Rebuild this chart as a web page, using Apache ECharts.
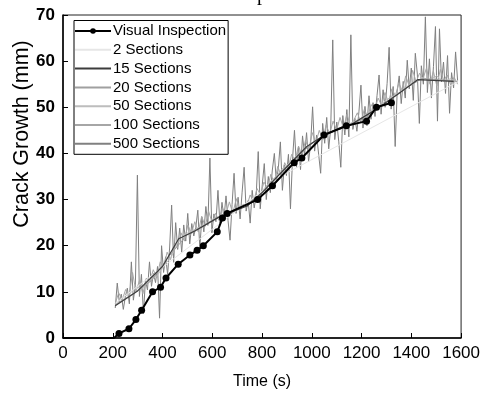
<!DOCTYPE html>
<html><head><meta charset="utf-8">
<script src="https://cdn.jsdelivr.net/npm/echarts@6/dist/echarts.min.js"></script>
<style>html,body{margin:0;padding:0;background:#fff}#c{width:483px;height:395px}</style>
</head><body><div id="c"></div>
<script>
// ---- data ----
const xTicks = [0,200,400,600,800,1000,1200,1400,1600];
const yTicks = [0,10,20,30,40,50,60,70];
const sectionStart = 210, sectionEnd = 1586;

const visualTime  = [0,205,225,265,293,316,360,392,414,463,510,539,564,620,641,660,782,842,929,960,1049,1139,1220,1260,1320];
const visualValue = [0,0,1,2,4,6,10,11,13,16,18,19,20,23,26,27,30,33,38,39,44,46,47,50,51];

const sec2Time  = [210, 890, 1586];
const sec2Value = [7.5, 35.5, 55.5];

const sec15Time  = [210,300,400,465,530,630,740,800,880,980,1060,1160,1260,1340,1427,1570];
const sec15Value = [7,10.2,15.5,21.5,23.2,26.3,28.6,31.5,36,41.5,44.3,46.3,49.6,52.6,56,55.6];

const sec20Value = [7.2,9.6,12.4,17.8,22.4,24.6,26.8,28.4,30.8,35.2,39.0,42.4,44.6,46.0,48.0,51.0,53.8,56.2,56.0,55.6];

const sec50Value = [
 7.0,8.8,9.5,11.0,10.8,12.6,13.5,15.8,17.5,21.0,
 22.5,23.2,24.0,24.6,25.8,26.0,27.2,27.5,28.6,28.8,
 30.5,31.8,33.6,35.0,36.8,38.0,39.6,40.8,42.2,43.0,
 44.0,44.8,45.5,46.0,46.8,47.5,48.6,49.4,50.6,51.8,
 52.6,53.5,54.8,55.6,56.4,56.0,56.8,55.6,56.2,55.4];

const sec100Value = [
 7.5,9.8,8.2,10.5,9.0,14.2,10.0,12.5,9.6,13.0,
 12.2,14.8,13.0,16.5,15.2,18.6,17.0,20.4,19.5,22.8,
 21.0,24.5,22.6,25.2,23.0,26.4,24.2,27.5,25.0,27.0,
 25.5,28.2,26.8,29.5,27.0,30.2,27.6,29.0,28.4,31.0,
 29.5,32.4,31.0,33.8,32.5,35.5,33.6,37.2,35.0,38.0,
 36.5,39.8,38.4,41.6,39.5,42.8,41.0,44.5,42.2,45.0,
 43.0,46.2,44.2,47.0,45.0,47.8,45.5,48.5,46.0,47.2,
 48.8,46.8,49.5,48.0,50.6,49.2,52.0,50.4,53.2,51.0,
 54.0,52.5,55.2,53.6,56.8,54.6,58.0,55.5,57.4,56.2,
 58.5,55.0,57.8,54.6,58.2,55.8,57.0,54.8,56.5,55.0];

const sec500Value = [
 6.5,11.9,7.8,9.5,6.2,8.9,10.8,7.4,16.5,8.2,
 11.5,35.3,9.0,13.8,5.3,12.6,10.4,16.5,11.2,14.0,
 12.0,15.5,4.3,20.0,14.2,17.6,13.8,19.5,28.8,16.4,
 25.0,19.2,23.8,18.6,24.5,21.0,27.0,20.4,24.8,22.1,
 24.0,27.7,19.5,26.2,23.0,28.5,24.4,39.0,22.8,26.9,
 25.2,32.0,24.6,29.4,26.0,30.8,25.5,21.2,28.9,35.7,
 27.0,30.5,25.8,31.6,37.0,27.5,29.8,24.9,32.0,28.2,
 31.0,40.4,28.0,33.2,37.8,30.0,35.0,31.5,36.4,40.0,
 33.8,36.9,42.5,32.0,37.5,35.2,39.8,28.0,38.6,45.0,
 37.0,41.5,36.5,43.8,39.6,44.5,38.2,42.0,50.1,40.5,
 44.0,39.8,35.7,46.5,42.2,47.8,41.0,45.5,64.6,43.0,
 46.8,42.5,37.0,48.2,44.0,49.5,43.6,65.7,45.2,47.6,
 44.8,49.0,54.8,45.5,50.2,46.0,52.5,47.4,51.0,48.0,
 52.6,57.0,48.5,53.8,50.0,55.2,63.0,49.6,54.5,41.5,
 53.5,56.8,50.8,55.6,52.0,60.2,54.0,58.5,51.5,61.7,
 57.2,46.5,59.0,55.0,69.6,53.2,60.5,52.0,58.8,67.5,
 47.0,67.0,55.5,59.8,53.0,61.2,48.7,57.5,54.2,62.0,55.8];

const yAxisTitle = 'Crack Growth (mm)';
const xAxisTitle = 'Time (s)';

// ---- build ----
function evenPairs(values){
  const n = values.length, step = (sectionEnd - sectionStart)/(n-1);
  return values.map((v,i)=>[sectionStart + i*step, v]);
}
function pairs(t, v){ return t.map((x,i)=>[x, v[i]]); }

const font = 'Liberation Sans, Arial, sans-serif';
const chart = echarts.init(document.getElementById('c'), null, {renderer:'canvas'});
const visData = pairs(visualTime, visualValue).map((p,i)=> i<2 ? {value:p, symbol:'none'} : p);
const noSym = {opacity:0, borderWidth:0};

chart.setOption({
  animation:false,
  backgroundColor:'#fff',
  graphic:[
    {type:'text', left:218, top:-15, silent:true,
      style:{text:'Comparison', font:'20px Liberation Serif, Times New Roman, serif', fill:'#000'}},
    {type:'text', x:22, y:134, rotation:Math.PI/2, silent:true,
      style:{text:yAxisTitle, font:'21.5px Liberation Sans, Arial, sans-serif', fill:'#000', align:'center', verticalAlign:'middle'}}
  ],
  grid:{left:63, right:21.5, top:15, bottom:57, show:true, borderColor:'#222', borderWidth:1},
  legend:{
    orient:'vertical', left:74, top:20.5,
    data:[
      {name:'Visual Inspection'},
      {name:'2 Sections', itemStyle:noSym},
      {name:'15 Sections', itemStyle:noSym},
      {name:'20 Sections', itemStyle:noSym},
      {name:'50 Sections', itemStyle:noSym},
      {name:'100 Sections', itemStyle:noSym},
      {name:'500 Sections', itemStyle:noSym}],
    itemWidth:36, itemHeight:7, itemGap:3.8,
    padding:[3,2,3,0],
    borderColor:'#000', borderWidth:1, backgroundColor:'#fff',
    textStyle:{fontFamily:font, fontSize:15, color:'#000', padding:[0,0,0,-3]}
  },
  xAxis:{
    type:'value', min:0, max:1600, interval:200,
    name:xAxisTitle, nameLocation:'middle', nameGap:36,
    nameTextStyle:{fontFamily:font, fontSize:16, color:'#000'},
    axisLine:{show:true, lineStyle:{color:'#000', width:1.5}},
    axisTick:{show:true, inside:true, length:5, lineStyle:{color:'#000', width:1}},
    axisLabel:{fontFamily:font, fontSize:17, color:'#000', margin:7, formatter:v=>String(v)},
    splitLine:{show:false}
  },
  yAxis:{
    type:'value', min:0, max:70, interval:10,
    axisLine:{show:true, lineStyle:{color:'#000', width:1.5}},
    axisTick:{show:true, inside:true, length:5, lineStyle:{color:'#000', width:1}},
    axisLabel:{fontFamily:font, fontSize:17, fontWeight:'bold', color:'#000', margin:8, formatter:v=>String(v)},
    splitLine:{show:false}
  },
  series:[
    {name:'500 Sections', type:'line', data:evenPairs(sec500Value), symbol:'none', z:1,
      lineStyle:{color:'#808080', width:1}, itemStyle:{color:'#808080'}},
    {name:'100 Sections', type:'line', data:evenPairs(sec100Value), symbol:'none', z:2,
      lineStyle:{color:'#a6a6a6', width:1}, itemStyle:{color:'#a6a6a6'}},
    {name:'50 Sections', type:'line', data:evenPairs(sec50Value), symbol:'none', z:3,
      lineStyle:{color:'#bdbdbd', width:1}, itemStyle:{color:'#bdbdbd'}},
    {name:'20 Sections', type:'line', data:evenPairs(sec20Value), symbol:'none', z:4,
      lineStyle:{color:'#a0a0a0', width:1}, itemStyle:{color:'#a0a0a0'}},
    {name:'2 Sections', type:'line', data:pairs(sec2Time, sec2Value), symbol:'none', z:5,
      lineStyle:{color:'#e6e6e6', width:1}, itemStyle:{color:'#e6e6e6'}},
    {name:'15 Sections', type:'line', data:pairs(sec15Time, sec15Value), symbol:'none', z:6,
      lineStyle:{color:'#3c3c3c', width:1.2}, itemStyle:{color:'#3c3c3c'}},
    {name:'Visual Inspection', type:'line', data:visData, symbol:'circle', symbolSize:7, z:10,
      lineStyle:{color:'#000', width:2}, itemStyle:{color:'#000'}}
  ]
});
</script></body></html>
